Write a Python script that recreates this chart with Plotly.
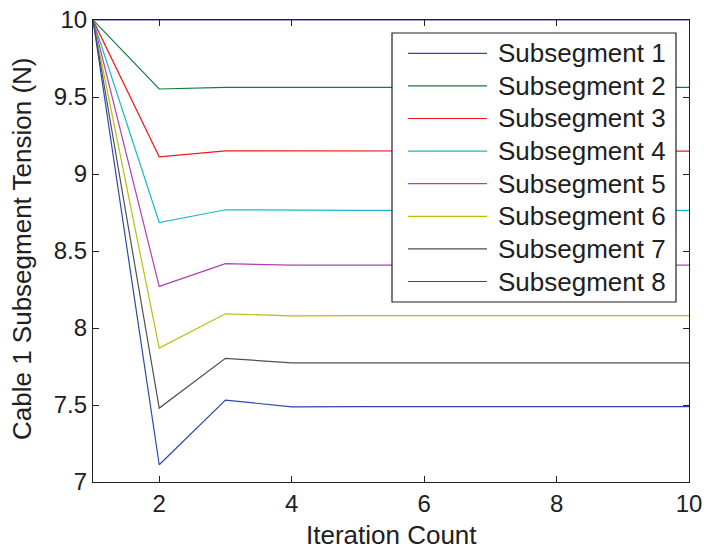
import plotly.graph_objects as go

iterations = [1, 2, 3, 4, 5, 6, 7, 8, 9, 10]
names = ["Subsegment 1", "Subsegment 2", "Subsegment 3", "Subsegment 4",
         "Subsegment 5", "Subsegment 6", "Subsegment 7", "Subsegment 8"]
seg1 = [10, 10, 10, 10, 10, 10, 10, 10, 10, 10]
seg2 = [10, 9.552, 9.562, 9.562, 9.562, 9.562, 9.562, 9.562, 9.562, 9.562]
seg3 = [10, 9.112, 9.150, 9.149, 9.149, 9.149, 9.149, 9.149, 9.149, 9.149]
seg4 = [10, 8.685, 8.768, 8.764, 8.764, 8.764, 8.764, 8.764, 8.764, 8.764]
seg5 = [10, 8.270, 8.418, 8.408, 8.408, 8.408, 8.408, 8.408, 8.408, 8.408]
seg6 = [10, 7.870, 8.092, 8.079, 8.080, 8.080, 8.080, 8.080, 8.080, 8.080]
seg7 = [10, 7.480, 7.803, 7.773, 7.774, 7.774, 7.774, 7.774, 7.774, 7.774]
seg8 = [10, 7.112, 7.532, 7.488, 7.490, 7.490, 7.490, 7.490, 7.490, 7.490]
series = [seg1, seg2, seg3, seg4, seg5, seg6, seg7, seg8]
colors = ["#2a48b0", "#0a8040", "#f01818", "#18bcc4", "#b040b0",
          "#bcbc10", "#505050", "#2a48b0"]
xticks = [2, 4, 6, 8, 10]
yticks = [7, 7.5, 8, 8.5, 9, 9.5, 10]

W, H = 704, 548
L, R, T, B = 93, 689, 20, 482
FONT = "Liberation Sans, Arial, sans-serif"
FS = 26
TFS = 24

fig = go.Figure()
for name, ys, c in zip(names, series, colors):
    fig.add_trace(go.Scatter(x=iterations, y=ys, mode="lines", name=name,
                             line=dict(color=c, width=1.2), showlegend=False))

def px(xp):
    return (xp - L) / (R - L)

def py(yp):
    return (B - yp) / (B - T)

shapes = []
annotations = []
# legend box
shapes.append(dict(type="rect", xref="paper", yref="paper",
                   x0=px(392), x1=px(676), y0=py(302), y1=py(33),
                   line=dict(color="#202020", width=1.2), fillcolor="white", layer="above"))
row0, step = 53.3, 32.6
for i, (name, c) in enumerate(zip(names, colors)):
    yc = row0 + i * step
    shapes.append(dict(type="line", xref="paper", yref="paper",
                       x0=px(408), x1=px(487), y0=py(yc), y1=py(yc),
                       line=dict(color=c, width=1.2), layer="above"))
    annotations.append(dict(xref="paper", yref="paper", x=px(496), y=py(yc),
                            text=name, showarrow=False, xanchor="left", yanchor="middle",
                            font=dict(family=FONT, size=FS, color="#202020")))

annotations.append(dict(xref="paper", yref="paper", x=px(391), y=py(535),
                        text="Iteration Count", showarrow=False,
                        xanchor="center", yanchor="middle",
                        font=dict(family=FONT, size=FS, color="#202020")))
annotations.append(dict(xref="paper", yref="paper", x=px(22), y=py(249),
                        text="Cable 1 Subsegment Tension (N)", showarrow=False,
                        textangle=-90, xanchor="center", yanchor="middle",
                        font=dict(family=FONT, size=FS, color="#202020")))

axis_common = dict(showgrid=False, zeroline=False, showline=True, linecolor="#202020",
                   linewidth=1.2, mirror="allticks", ticks="inside", ticklen=6,
                   tickcolor="#202020", tickwidth=1, automargin=False,
                   tickfont=dict(family=FONT, size=TFS, color="#202020"))

fig.update_layout(
    width=W, height=H, margin=dict(l=L, r=W - R, t=T, b=H - B),
    paper_bgcolor="white", plot_bgcolor="white",
    xaxis=dict(range=[1, 10], tickvals=xticks, ticktext=[str(v) for v in xticks],
               **axis_common),
    yaxis=dict(range=[7, 10], tickvals=yticks, ticktext=[f"{v:g}" for v in yticks],
               **axis_common),
    shapes=shapes, annotations=annotations, showlegend=False,
)
fig.write_html("out.html")
